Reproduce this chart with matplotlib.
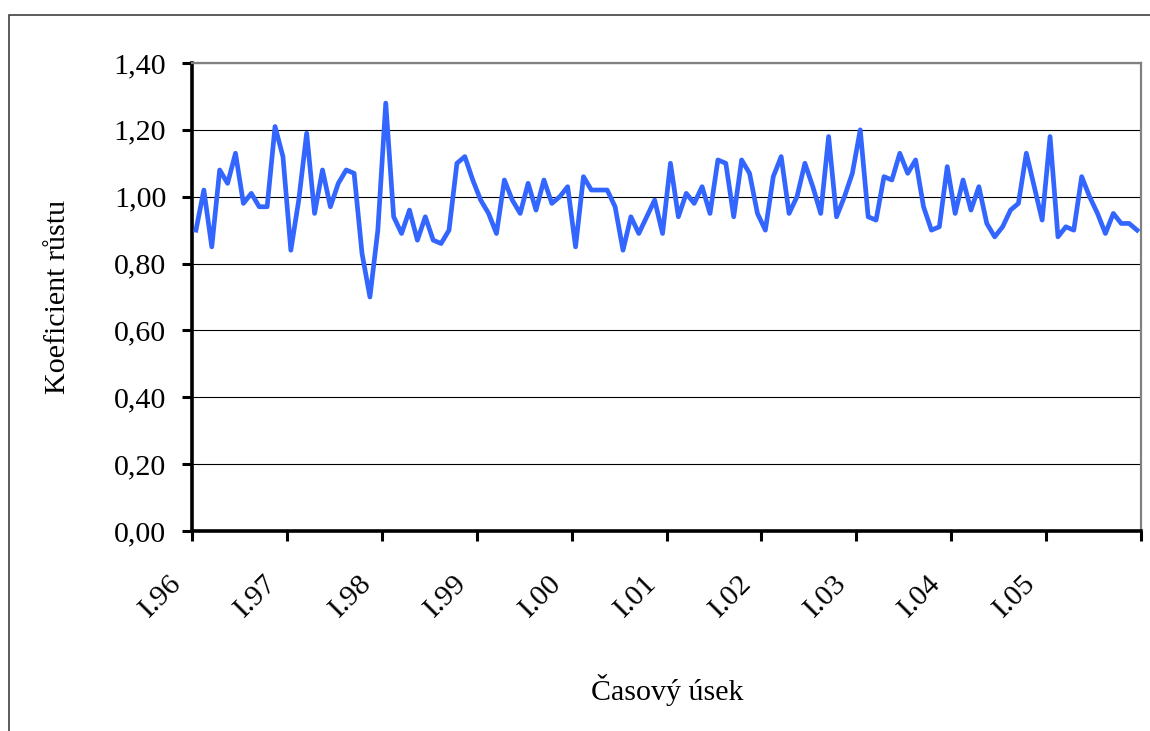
import matplotlib
matplotlib.use("Agg")
import matplotlib.pyplot as plt
import numpy as np
from matplotlib.patches import Rectangle

plt.rcParams["font.family"] = ["Liberation Serif", "DejaVu Serif"]

# monthly growth coefficient, I.1996 .. XII.2005
growth = [
    0.90, 1.02, 0.85, 1.08, 1.04, 1.13, 0.98, 1.01, 0.97, 0.97, 1.21, 1.12,
    0.84, 0.99, 1.19, 0.95, 1.08, 0.97, 1.04, 1.08, 1.07, 0.83, 0.70, 0.90,
    1.28, 0.94, 0.89, 0.96, 0.87, 0.94, 0.87, 0.86, 0.90, 1.10, 1.12, 1.05,
    0.99, 0.95, 0.89, 1.05, 0.99, 0.95, 1.04, 0.96, 1.05, 0.98, 1.00, 1.03,
    0.85, 1.06, 1.02, 1.02, 1.02, 0.97, 0.84, 0.94, 0.89, 0.94, 0.99, 0.89,
    1.10, 0.94, 1.01, 0.98, 1.03, 0.95, 1.11, 1.10, 0.94, 1.11, 1.07, 0.95,
    0.90, 1.06, 1.12, 0.95, 1.00, 1.10, 1.03, 0.95, 1.18, 0.94, 1.00, 1.07,
    1.20, 0.94, 0.93, 1.06, 1.05, 1.13, 1.07, 1.11, 0.97, 0.90, 0.91, 1.09,
    0.95, 1.05, 0.96, 1.03, 0.92, 0.88, 0.91, 0.96, 0.98, 1.13, 1.03, 0.93,
    1.18, 0.88, 0.91, 0.90, 1.06, 1.00, 0.95, 0.89, 0.95, 0.92, 0.92, 0.90,
]
year_labels = ["I.96", "I.97", "I.98", "I.99", "I.00",
               "I.01", "I.02", "I.03", "I.04", "I.05"]
y_ticks = [0.0, 0.2, 0.4, 0.6, 0.8, 1.0, 1.2, 1.4]

fig = plt.figure(figsize=(11.5, 7.31), dpi=100)
ax = fig.add_axes([192 / 1150, 1 - 531 / 731, (1141 - 192) / 1150, (531 - 63) / 731])

x = np.arange(len(growth))
ax.plot(x, growth, color="#3366FF", lw=3.4, solid_joinstyle="round", zorder=3, clip_on=False)

ax.set_xlim(-0.5, len(growth) - 0.5)
ax.set_ylim(0, 1.4)

# y axis
ax.set_yticks(y_ticks)
ax.set_yticklabels([f"{v:.2f}".replace(".", ",") for v in y_ticks], fontsize=21.6)
ax.yaxis.grid(True, color="black", lw=0.8)
ax.set_axisbelow(True)

# x axis: ticks between categories, one label per year
xt = np.arange(-0.5, len(growth), 12)
ax.set_xticks(xt)
ax.tick_params(axis="x", labelbottom=False)
for t, lab in zip(xt, year_labels):
    ax.annotate(lab, xy=(t, 0), xycoords=("data", "axes fraction"),
                xytext=(-31, -65), textcoords="offset pixels",
                rotation=45, ha="center", va="center", fontsize=21.6)

ax.tick_params(direction="out", length=7.5, width=2.2, color="black", pad=11)

for side in ("left", "bottom"):
    ax.spines[side].set_linewidth(2.6)
    ax.spines[side].set_color("black")
for side in ("top", "right"):
    ax.spines[side].set_linewidth(1.6)
    ax.spines[side].set_color("#808080")

fig.text(58 / 1150, 1 - 297 / 731, "Koeficient růstu", fontsize=21.6,
         rotation=90, ha="center", va="center")
fig.text(667 / 1150, 1 - 690 / 731, "Časový úsek", fontsize=21.6, ha="center", va="center")

# chart area border
fig.patches.append(Rectangle((9 / 1150, -0.05), 1.1, 1 - 15 / 731 + 0.05,
                             transform=fig.transFigure, fill=False,
                             edgecolor="#404040", lw=1.2))

fig.savefig("out.png", dpi=100)
